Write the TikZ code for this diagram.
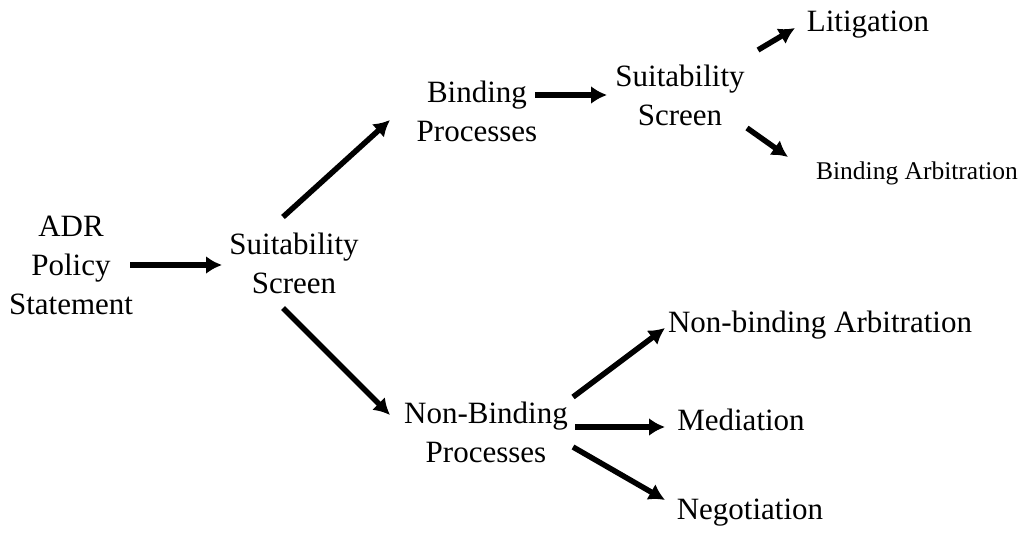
\documentclass[tikz,border=0pt]{standalone}
\usepackage{fontspec}
\setmainfont{Liberation Serif}
\usetikzlibrary{arrows.meta}
\tikzset{>={Latex[length=16pt, width=18pt]}}
\tikzset{
    lbl/.style={align=center, inner sep=2pt, font=\fontsize{31}{39}\selectfont},
    arr/.style={line width=5.5pt, ->}
}

\begin{document}
\begin{tikzpicture}[x=1pt, y=-1pt]
    \useasboundingbox(0, 0)rectangle(1022, 535);
    \node[lbl](adr)at(71, 265){ADR\\Policy\\Statement};
    \node[lbl](ss1)at(294, 263){Suitability\\Screen};
    \node[lbl](bp)at(477, 111){Binding\\Processes};
    \node[lbl](nbp)at(486, 432){Non-Binding\\Processes};
    \node[lbl](ss2)at(680, 95){Suitability\\Screen};
    \node[lbl](lit)at(868, 25){Litigation};
    \node[lbl, font=\fontsize{25.5}{30}\selectfont](ba)at(917, 173){Binding Arbitration};
    \node[lbl](nba)at(820, 325){Non-binding Arbitration};
    \node[lbl](med)at(741, 420){Mediation};
    \node[lbl](neg)at(750, 513){Negotiation};
    % arrows
    \draw[arr]([shift={(59, 0)}]adr.center)--([shift={(-72, 2)}]ss1.center);
    \draw[arr]([shift={(-11, -46)}]ss1.center)--([shift={(-87, 9)}]bp.center);
    \draw[arr]([shift={(-11, 45)}]ss1.center)--([shift={(-96, -17)}]nbp.center);
    \draw[arr]([shift={(58, -16)}]bp.center)--([shift={(-73, 0)}]ss2.center);
    \draw[arr]([shift={(78, -45)}]ss2.center)--([shift={(-73, 3)}]lit.center);
    \draw[arr]([shift={(67, 33)}]ss2.center)--([shift={(-129, -16)}]ba.center);
    \draw[arr]([shift={(87, -35)}]nbp.center)--([shift={(-155, 3)}]nba.center);
    \draw[arr]([shift={(89, -5)}]nbp.center)--([shift={(-76, 7)}]med.center);
    \draw[arr]([shift={(87, 15)}]nbp.center)--([shift={(-85, -13)}]neg.center);
\end{tikzpicture}
\end{document}
